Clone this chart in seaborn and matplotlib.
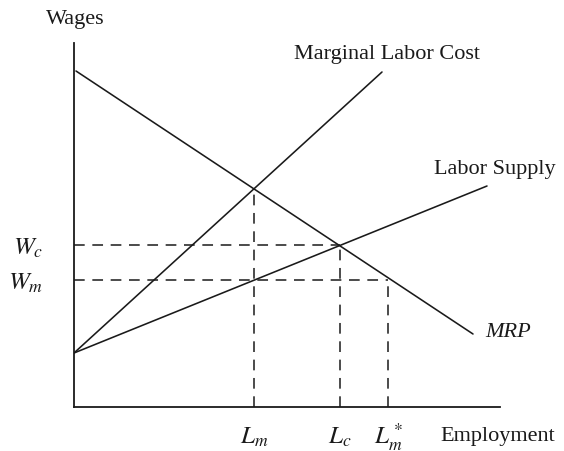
"""
Monopsony labor market diagram (wages vs. employment)
"""
import matplotlib
matplotlib.use('Agg')
import matplotlib.pyplot as plt
import seaborn as sns
import pandas as pd

# curve endpoints (arbitrary units)
mrp_x = [2, 399]
mrp_y = [336, 73]
supply_x = [0, 413]
supply_y = [54, 221]
mlc_x = [0, 308]
mlc_y = [54, 335]

# equilibrium values
lm = 180
lc = 266
lm_star = 314
wc = 162
wm = 127
mlc_at_lm = 218

x_ticks = [lm, lc, lm_star]
x_tick_labels = [r'$L_m$', r'$L_c$', r'$L_m^*$']
y_ticks = [wm, wc]
y_tick_labels = [r'$W_m$', r'$W_c$']

sns.set_theme(style='white')
plt.rcParams['font.family'] = ['Liberation Serif', 'DejaVu Serif']
plt.rcParams['mathtext.fontset'] = 'stix'

curves = pd.concat([
    pd.DataFrame({'x': mrp_x, 'y': mrp_y, 'curve': 'MRP'}),
    pd.DataFrame({'x': supply_x, 'y': supply_y, 'curve': 'Labor Supply'}),
    pd.DataFrame({'x': mlc_x, 'y': mlc_y, 'curve': 'Marginal Labor Cost'}),
])

fig = plt.figure(figsize=(5.64, 4.52), dpi=100)
ax = fig.add_axes([74 / 564, 44 / 452, 426 / 564, 364 / 452])

sns.lineplot(data=curves, x='x', y='y', units='curve', estimator=None,
             color='#1a1a1a', linewidth=1.15, legend=False, ax=ax, sort=False)

# dashed guide lines
dash = dict(color='#1a1a1a', linewidth=1.1, linestyle=(0, (7, 5)))
ax.plot([lm, lm], [0, mlc_at_lm], **dash)
ax.plot([lc, lc], [0, wc], **dash)
ax.plot([lm_star, lm_star], [0, wm], **dash)
ax.plot([0, lc], [wc, wc], **dash)
ax.plot([0, lm_star], [wm, wm], **dash)

ax.set_xlim(0, 426)
ax.set_ylim(0, 364)
sns.despine(ax=ax)
for side in ['left', 'bottom']:
    ax.spines[side].set_color('#1a1a1a')
    ax.spines[side].set_linewidth(1.3)

ax.set_xticks(x_ticks)
ax.set_xticklabels(x_tick_labels, fontsize=18)
for lbl in ax.get_xticklabels():
    lbl.set_verticalalignment('baseline')
ax.set_yticks(y_ticks)
ax.set_yticklabels(y_tick_labels, fontsize=18)
ax.tick_params(axis='x', length=0, pad=26, colors='#1a1a1a')
ax.tick_params(axis='y', length=0, pad=22, colors='#1a1a1a')
ax.set_xlabel('')
ax.set_ylabel('')

# labels
ax.text(1, 388, 'Wages', ha='center', va='center', fontsize=16, color='#1a1a1a')
ax.text(424, -29, 'Employment', ha='center', va='center', fontsize=16, color='#1a1a1a')
ax.text(313, 353, 'Marginal Labor Cost', ha='center', va='center', fontsize=16, color='#1a1a1a')
ax.text(421, 238, 'Labor Supply', ha='center', va='center', fontsize=16, color='#1a1a1a')
ax.text(411, 75, 'MRP', ha='left', va='center', fontsize=16, style='italic', color='#1a1a1a')

fig.savefig('out.png', dpi=100)
